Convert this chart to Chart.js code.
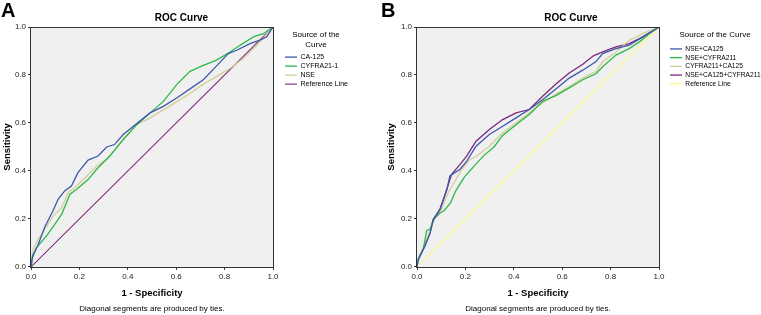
<!DOCTYPE html>
<html><head><meta charset="utf-8">
<script src="https://cdn.jsdelivr.net/npm/chart.js@4.4.1/dist/chart.umd.min.js"></script>
<style>
html,body{margin:0;padding:0;background:#fff;overflow:hidden;width:761px;height:315px;position:relative;}
canvas{position:absolute;top:0;}
.tag{position:absolute;top:0;font:bold 20px "Liberation Sans",Arial,sans-serif;line-height:1;color:#000;z-index:2;}
</style></head><body>
<canvas id="cA" width="380" height="315" style="left:0"></canvas>
<canvas id="cB" width="382" height="315" style="left:380px"></canvas>
<div class="tag" style="left:1px">A</div>
<div class="tag" style="left:381px">B</div>
<script>
// ---- Panel A data (1 - Specificity, Sensitivity) ----
const A_CA125_x = [0,0.007,0.029,0.057,0.091,0.112,0.139,0.167,0.194,0.236,0.277,0.313,0.345,0.381,0.423,0.492,0.547,0.602,0.657,0.712,0.767,0.815,0.85,0.905,0.946,0.974,1];
const A_CA125_y = [0,0.047,0.091,0.166,0.234,0.282,0.317,0.337,0.393,0.445,0.462,0.5,0.51,0.552,0.586,0.642,0.669,0.704,0.742,0.78,0.838,0.889,0.903,0.931,0.945,0.959,1];
const A_CYFRA_x = [0,0.003,0.01,0.024,0.065,0.099,0.127,0.161,0.189,0.237,0.271,0.326,0.381,0.437,0.492,0.547,0.602,0.657,0.712,0.767,0.822,0.864,0.919,0.96,1];
const A_CYFRA_y = [0,0.03,0.047,0.082,0.13,0.178,0.22,0.303,0.324,0.365,0.407,0.462,0.531,0.593,0.642,0.69,0.76,0.815,0.84,0.862,0.896,0.924,0.959,0.972,1];
const A_NSE_x = [0,0.005,0.01,0.03,0.058,0.092,0.127,0.154,0.189,0.23,0.271,0.313,0.347,0.381,0.437,0.492,0.561,0.602,0.657,0.712,0.767,0.822,0.877,0.933,1];
const A_NSE_y = [0,0.05,0.075,0.116,0.158,0.213,0.248,0.31,0.337,0.379,0.42,0.45,0.49,0.531,0.593,0.621,0.663,0.689,0.723,0.762,0.793,0.827,0.869,0.924,1];
// ---- Panel B data ----
const B_NSE_CA125_x = [0,0.005,0.015,0.033,0.054,0.067,0.095,0.123,0.136,0.178,0.205,0.244,0.299,0.354,0.409,0.464,0.519,0.574,0.629,0.685,0.74,0.767,0.822,0.877,0.933,1];
const B_NSE_CA125_y = [0,0.03,0.05,0.088,0.14,0.195,0.238,0.32,0.379,0.407,0.44,0.503,0.552,0.586,0.621,0.656,0.697,0.742,0.787,0.82,0.856,0.889,0.91,0.924,0.959,1];
const B_NSE_CYFRA_x = [0,0.005,0.026,0.04,0.054,0.07,0.095,0.112,0.139,0.16,0.194,0.236,0.277,0.318,0.354,0.409,0.464,0.519,0.574,0.629,0.685,0.74,0.767,0.822,0.877,0.919,0.96,1];
const B_NSE_CYFRA_y = [0,0.033,0.075,0.151,0.158,0.2,0.225,0.234,0.268,0.317,0.372,0.42,0.465,0.5,0.548,0.593,0.635,0.69,0.714,0.746,0.78,0.805,0.834,0.883,0.91,0.938,0.972,1];
const B_CYFRA_CA125_x = [0,0,0.019,0.04,0.061,0.074,0.102,0.129,0.157,0.185,0.219,0.244,0.299,0.354,0.409,0.464,0.519,0.574,0.629,0.685,0.74,0.767,0.822,0.877,0.933,1];
const B_CYFRA_CA125_y = [0,0.01,0.061,0.116,0.171,0.206,0.241,0.31,0.358,0.407,0.448,0.46,0.503,0.559,0.6,0.642,0.683,0.72,0.752,0.787,0.815,0.855,0.896,0.945,0.972,1];
const B_ALL3_x = [0,0,0.012,0.033,0.054,0.067,0.095,0.123,0.143,0.178,0.205,0.244,0.299,0.354,0.409,0.464,0.519,0.574,0.629,0.685,0.729,0.767,0.822,0.877,0.933,1];
const B_ALL3_y = [0,0.012,0.047,0.088,0.144,0.199,0.241,0.324,0.386,0.427,0.462,0.524,0.573,0.614,0.642,0.656,0.711,0.762,0.808,0.845,0.88,0.896,0.917,0.931,0.959,1];
// reference diagonal
const REF_x = [0,1];
const REF_y = [0,1];
// axis ticks
const TICKS = [0,0.2,0.4,0.6,0.8,1.0];

const FONT = '"Liberation Sans", Arial, sans-serif';
const C = {blue:'#3E58AC', green:'#2EB848', beige:'#D3CE97', purple:'#7C287D', yellow:'#FBF873'};

function pts(xs, ys){ return xs.map((x,i)=>({x:x, y:ys[i]})); }

const framePlugin = {
  id:'frame',
  beforeDatasetsDraw(c){
    const a=c.chartArea, ctx=c.ctx; ctx.save();
    ctx.fillStyle='#f0f0f0'; ctx.fillRect(a.left,a.top,a.right-a.left,a.bottom-a.top); ctx.restore();
  },
  afterDatasetsDraw(c){
    const a=c.chartArea, ctx=c.ctx; ctx.save();
    ctx.strokeStyle='#333'; ctx.lineWidth=1;
    ctx.strokeRect(Math.round(a.left)-0.5, Math.round(a.top)+0.5, Math.round(a.right-a.left)+1, Math.round(a.bottom-a.top));
    ctx.restore();
  }
};

function makeChart(id, series, o){
  const datasets = series.map(s=>({
    label:s.label, data:pts(s.xs,s.ys), borderColor:s.color, backgroundColor:s.color,
    borderWidth:s.w||1.3, pointRadius:0, showLine:true, tension:0, fill:false
  }));
  return new Chart(document.getElementById(id), {
    type:'scatter',
    data:{datasets},
    plugins:[framePlugin],
    options:{
      responsive:false, animation:false, devicePixelRatio:1,
      layout:{padding:o.pad},
      plugins:{
        tooltip:{enabled:false},
        title:{display:true, text:'ROC Curve', color:'#000', font:{family:FONT,size:10,weight:'bold'}, padding:{top:12,bottom:3}},
        subtitle:{display:true, position:'bottom', fullSize:false, text:'Diagonal segments are produced by ties.', color:'#000', font:{family:FONT,size:8}, padding:{top:5.5,bottom:0}},
        legend:{
          position:'right', align:'start', fullSize:false, maxWidth:o.legendW,
          labels:{usePointStyle:true, pointStyle:'line', pointStyleWidth:12, padding:2, color:'#000', font:{family:FONT,size:o.legendFont}},
          title:{display:true, text:o.legendTitle, color:'#000', font:{family:FONT,size:8}, padding:{top:4,bottom:o.legendTitlePadB}}
        }
      },
      scales:{
        x:{type:'linear', min:0, max:1, afterBuildTicks(s){ s.ticks = TICKS.map(v=>({value:v})); },
           ticks:{callback:v=>Number(v).toFixed(1), color:'#222', font:{family:FONT,size:8}, padding:2, maxRotation:0},
           grid:{display:true, drawOnChartArea:false, drawTicks:true, tickLength:3, color:'#333'}, border:{display:false},
           title:{display:true, text:'1 - Specificity', color:'#000', font:{family:FONT,size:9.5,weight:'bold'}, padding:{top:4,bottom:0}}},
        y:{type:'linear', min:0, max:1, afterBuildTicks(s){ s.ticks = TICKS.map(v=>({value:v})); },
           afterFit(s){ s.width = o.yW; },
           ticks:{callback:v=>Number(v).toFixed(1), color:'#222', font:{family:FONT,size:8}, padding:2},
           grid:{display:true, drawOnChartArea:false, drawTicks:true, tickLength:3, color:'#333'}, border:{display:false},
           title:{display:true, text:'Sensitivity', color:'#000', font:{family:FONT,size:9.5,weight:'bold'}, padding:{top:o.yTitlePad,bottom:0}}},
        y2:{type:'linear', position:'right', display:true, min:0, max:1,
           ticks:{display:false}, grid:{display:false}, border:{display:false},
           afterFit(s){ s.width = o.gap; }}
      }
    }
  });
}

makeChart('cA', [
  {label:'CA-125', xs:A_CA125_x, ys:A_CA125_y, color:C.blue},
  {label:'CYFRA21-1', xs:A_CYFRA_x, ys:A_CYFRA_y, color:C.green},
  {label:'NSE', xs:A_NSE_x, ys:A_NSE_y, color:C.beige},
  {label:'Reference Line', xs:REF_x, ys:REF_y, color:C.purple, w:1.1}
], {pad:{left:14,right:31,top:0,bottom:1}, legendW:66, legendFont:7, legendTitle:['Source of the','Curve'], legendTitlePadB:11, yW:17, yTitlePad:-12.7, gap:10});

makeChart('cB', [
  {label:'NSE+CA125', xs:B_NSE_CA125_x, ys:B_NSE_CA125_y, color:C.blue},
  {label:'NSE+CYFRA211', xs:B_NSE_CYFRA_x, ys:B_NSE_CYFRA_y, color:C.green},
  {label:'CYFRA211+CA125', xs:B_CYFRA_CA125_x, ys:B_CYFRA_CA125_y, color:C.beige},
  {label:'NSE+CA125+CYFRA211', xs:B_ALL3_x, ys:B_ALL3_y, color:C.purple},
  {label:'Reference Line', xs:REF_x, ys:REF_y, color:C.yellow, w:1.1}
], {pad:{left:0,right:0,top:0,bottom:1}, legendW:94, legendFont:6.7, legendTitle:'Source of the Curve', legendTitlePadB:3, yW:37, yTitlePad:5.3, gap:9});
</script>
</body></html>
